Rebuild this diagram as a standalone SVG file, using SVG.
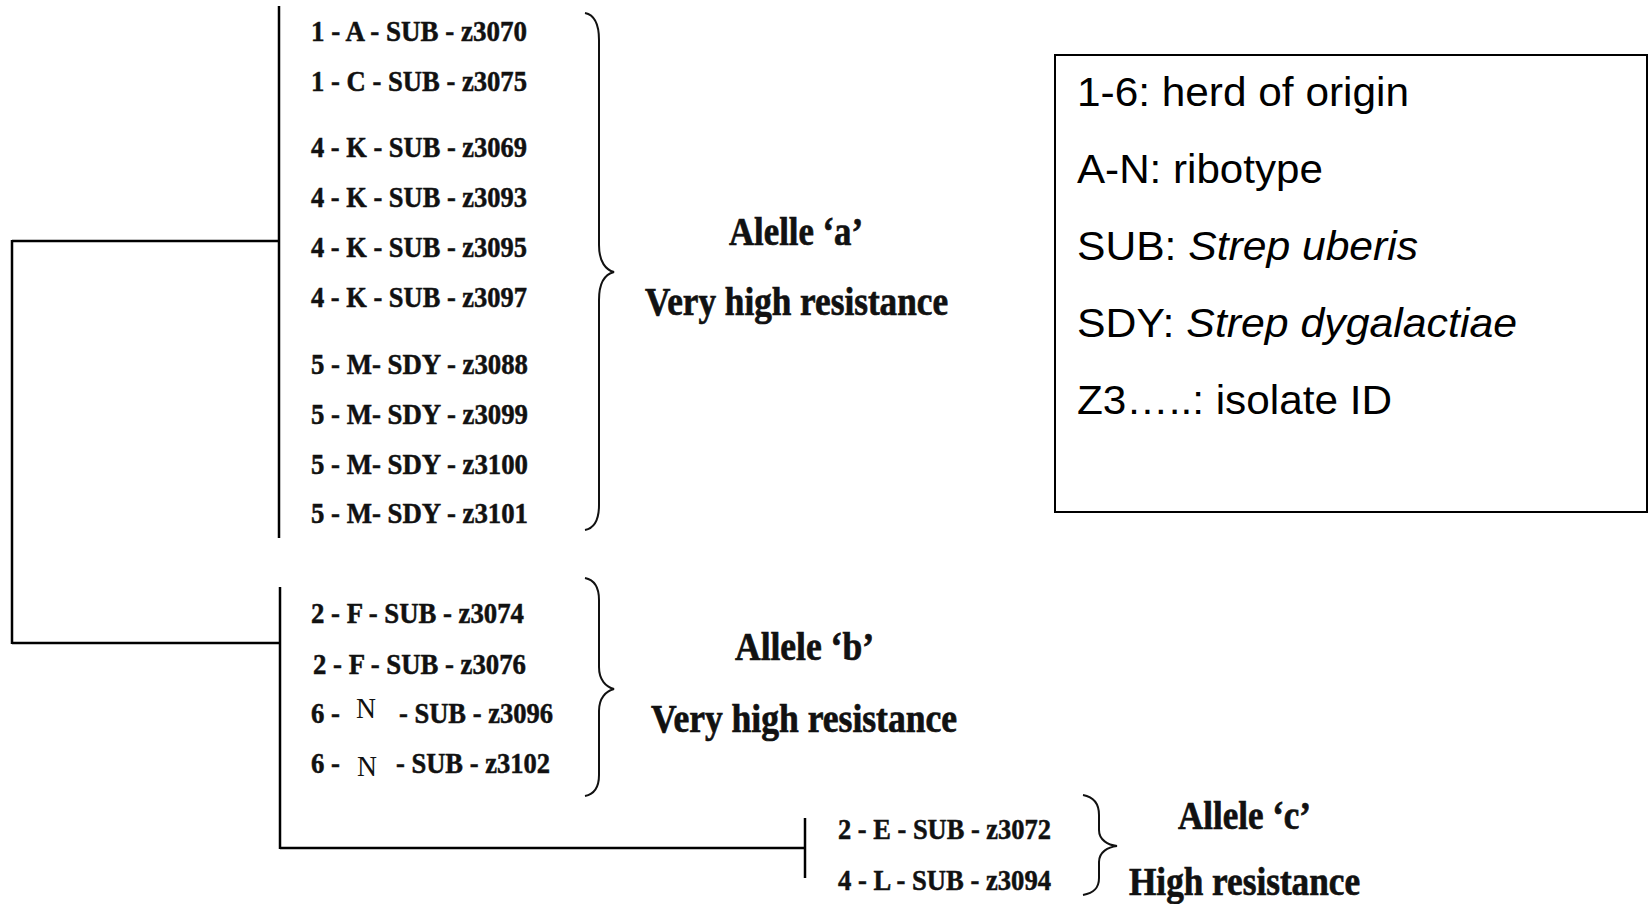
<svg xmlns="http://www.w3.org/2000/svg" width="1652" height="904" viewBox="0 0 1652 904">
<style>
.lbl{font-family:"Liberation Serif","Times New Roman",serif;font-weight:bold;font-size:29px;fill:#111;stroke:#111;stroke-width:0.5}
.reg{font-weight:normal;stroke-width:0}
.al{font-family:"Liberation Serif","Times New Roman",serif;font-weight:bold;font-size:40px;fill:#111;stroke:#111;stroke-width:0.7}
.lg{font-family:"Liberation Sans",Arial,sans-serif;font-size:40px;fill:#000}
.it{font-style:italic}
.ln{fill:none;stroke:#000;stroke-width:2.5}
.br{fill:none;stroke:#111;stroke-width:2}
</style>
<rect width="1652" height="904" fill="#fff"/>
<g id="connectors">
<path class="ln" d="M279,6 V538"/>
<path class="ln" d="M12,241 H279"/>
<path class="ln" d="M12,240 V644"/>
<path class="ln" d="M12,643 H279"/>
<path class="ln" d="M280,587 V849"/>
<path class="ln" d="M280,848 H805"/>
<path class="ln" d="M805,818 V878"/>
</g>
<g id="group-a">
<text class="lbl" x="311" y="41" textLength="216" lengthAdjust="spacingAndGlyphs">1 - A - SUB - z3070</text>
<text class="lbl" x="311" y="91" textLength="216" lengthAdjust="spacingAndGlyphs">1 - C - SUB - z3075</text>
<text class="lbl" x="311" y="157" textLength="216" lengthAdjust="spacingAndGlyphs">4 - K - SUB - z3069</text>
<text class="lbl" x="311" y="207" textLength="216" lengthAdjust="spacingAndGlyphs">4 - K - SUB - z3093</text>
<text class="lbl" x="311" y="257" textLength="216" lengthAdjust="spacingAndGlyphs">4 - K - SUB - z3095</text>
<text class="lbl" x="311" y="307" textLength="216" lengthAdjust="spacingAndGlyphs">4 - K - SUB - z3097</text>
<text class="lbl" x="311" y="374" textLength="217" lengthAdjust="spacingAndGlyphs">5 - M- SDY - z3088</text>
<text class="lbl" x="311" y="424" textLength="217" lengthAdjust="spacingAndGlyphs">5 - M- SDY - z3099</text>
<text class="lbl" x="311" y="474" textLength="217" lengthAdjust="spacingAndGlyphs">5 - M- SDY - z3100</text>
<text class="lbl" x="311" y="523" textLength="217" lengthAdjust="spacingAndGlyphs">5 - M- SDY - z3101</text>
<path class="br" d="M585,13 C595,15 599,25 599,40 L599,245 C599,262 606,270 614,272 C606,274 599,282 599,300 L599,505 C599,520 595,528 585,530"/>
<text class="al" x="729" y="245" textLength="134" lengthAdjust="spacingAndGlyphs">Alelle ‘a’</text>
<text class="al" x="645" y="315" textLength="303" lengthAdjust="spacingAndGlyphs">Very high resistance</text>
</g>
<g id="group-b">
<text class="lbl" x="311" y="623" textLength="213" lengthAdjust="spacingAndGlyphs">2 - F - SUB - z3074</text>
<text class="lbl" x="313" y="674" textLength="213" lengthAdjust="spacingAndGlyphs">2 - F - SUB - z3076</text>
<text class="lbl" x="311" y="723" textLength="29" lengthAdjust="spacingAndGlyphs">6 -</text>
<text class="lbl reg" x="356" y="718" textLength="20" lengthAdjust="spacingAndGlyphs">N</text>
<text class="lbl" x="399" y="723" textLength="154" lengthAdjust="spacingAndGlyphs">- SUB - z3096</text>
<text class="lbl" x="311" y="773" textLength="29" lengthAdjust="spacingAndGlyphs">6 -</text>
<text class="lbl reg" x="357" y="776" textLength="20" lengthAdjust="spacingAndGlyphs">N</text>
<text class="lbl" x="396" y="773" textLength="154" lengthAdjust="spacingAndGlyphs">- SUB - z3102</text>
<path class="br" d="M585,578 C595,580 599,588 599,600 L599,667 C599,680 606,687 614,689 C606,691 599,698 599,711 L599,775 C599,787 595,794 585,796"/>
<text class="al" x="735" y="660" textLength="139" lengthAdjust="spacingAndGlyphs">Allele ‘b’</text>
<text class="al" x="651" y="732" textLength="306" lengthAdjust="spacingAndGlyphs">Very high resistance</text>
</g>
<g id="group-c">
<text class="lbl" x="838" y="839" textLength="213" lengthAdjust="spacingAndGlyphs">2 - E - SUB - z3072</text>
<text class="lbl" x="838" y="890" textLength="213" lengthAdjust="spacingAndGlyphs">4 - L - SUB - z3094</text>
<path class="br" d="M1083,795 C1094,797 1099,804 1099,815 L1099,830 C1099,840 1108,845 1117,846 C1108,847 1099,852 1099,862 L1099,878 C1099,888 1094,893 1083,895"/>
<text class="al" x="1178" y="829" textLength="133" lengthAdjust="spacingAndGlyphs">Allele ‘c’</text>
<text class="al" x="1129" y="895" textLength="231" lengthAdjust="spacingAndGlyphs">High resistance</text>
</g>
<g id="legend">
<rect x="1055" y="55" width="592" height="457" fill="none" stroke="#000" stroke-width="2"/>
<text class="lg" x="1077" y="106" textLength="332" lengthAdjust="spacingAndGlyphs">1-6: herd of origin</text>
<text class="lg" x="1077" y="183" textLength="246" lengthAdjust="spacingAndGlyphs">A-N: ribotype</text>
<text class="lg" x="1077" y="260" textLength="341" lengthAdjust="spacingAndGlyphs">SUB: <tspan class="it">Strep uberis</tspan></text>
<text class="lg" x="1077" y="337" textLength="440" lengthAdjust="spacingAndGlyphs">SDY: <tspan class="it">Strep dygalactiae</tspan></text>
<text class="lg" x="1077" y="414" textLength="315" lengthAdjust="spacingAndGlyphs">Z3…..: isolate ID</text>
</g>
</svg>
